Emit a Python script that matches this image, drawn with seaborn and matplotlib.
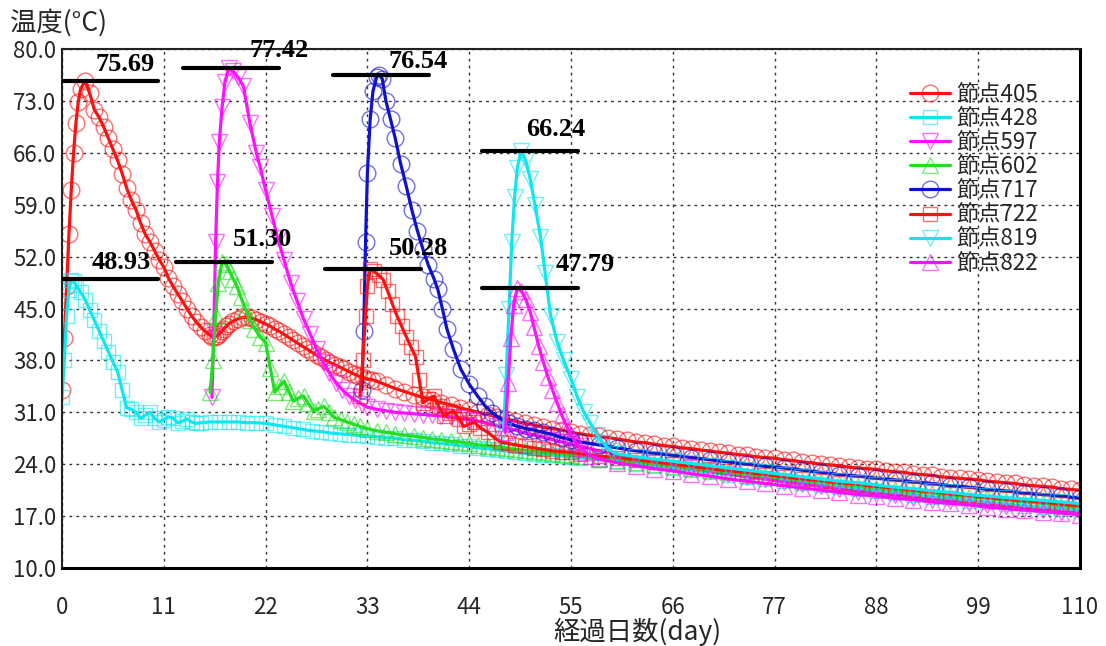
import pandas as pd
import matplotlib
matplotlib.use('Agg')
import matplotlib.pyplot as plt
from matplotlib.colors import to_rgba
import seaborn as sns

# 節点ごとの温度履歴
nodes = ['節点405', '節点428', '節点597', '節点602', '節点717', '節点722', '節点819', '節点822']

tail_1day = list(range(56, 111))
tail_2day = list(range(56, 111, 2))

days_405 = [0, 0.25, 0.5, 0.75, 1, 1.25, 1.5, 1.75, 2,
            2.5, 3, 3.5, 4, 4.5, 5, 5.5, 6, 6.5, 7, 7.5, 8, 8.5, 9, 9.5, 10, 10.5, 11,
            11.5, 12, 12.5, 13, 13.5, 14, 14.5, 15, 15.5, 16,
            16.25, 16.5, 16.75, 17, 17.25, 17.5, 17.75, 18,
            18.5, 19, 19.5, 20, 20.5, 21, 21.5, 22, 22.5, 23, 23.5, 24, 24.5, 25, 25.5, 26,
            26.5, 27, 27.5, 28, 28.5, 29, 29.5, 30, 30.5, 31, 31.5, 32, 32.5, 33, 33.5, 34,
            35, 36, 37, 38, 39, 40, 41, 42, 43, 44, 45, 46, 47, 48, 49, 50, 51, 52, 53, 54, 55]
temp_405 = [34.0, 41.0, 48.0, 55.0, 61.0, 66.0, 70.0, 72.8, 74.6,
            75.7, 74.0, 71.8, 70.8, 69.5, 68.0, 66.5, 65.0, 63.2, 61.2, 59.6, 58.3, 56.5, 55.0, 54.0,
            52.8, 51.6, 50.6, 49.1, 48.0, 47.0, 46.0, 45.0, 44.0, 43.2, 42.5, 41.9, 41.4,
            41.2, 41.2, 41.3, 41.6, 41.9, 42.3, 42.6, 42.9,
            43.3, 43.6, 43.8, 43.8, 43.7, 43.5, 43.2, 42.9, 42.6, 42.2, 41.9, 41.5, 41.1, 40.7, 40.3,
            39.9, 39.5, 39.1, 38.7, 38.4, 38.0, 37.7, 37.4, 37.1, 36.8, 36.5, 36.2, 35.9, 35.7, 35.5,
            35.4, 35.2,
            34.7, 34.2, 33.8, 33.4, 33.0, 32.7, 32.3, 32.0, 31.6, 31.3, 31.0, 30.7, 30.4, 30.1, 29.8,
            29.5, 29.3, 29.0, 28.8, 28.6, 28.3]
tail_405 = [28.1, 27.9, 27.8, 27.6, 27.4, 27.2, 27.0, 26.9, 26.7, 26.5,
            26.4, 26.2, 26.1, 25.9, 25.8, 25.6, 25.5, 25.3, 25.2, 25.0,
            24.9, 24.8, 24.6, 24.5, 24.3, 24.2, 24.0, 23.9, 23.8, 23.6,
            23.5, 23.4, 23.3, 23.1, 23.0, 22.9, 22.7, 22.6, 22.5, 22.3,
            22.2, 22.1, 22.0, 21.9, 21.7, 21.6, 21.5, 21.4, 21.2, 21.1,
            21.0, 20.9, 20.7, 20.6, 20.5]

days_428 = [0, 0.25, 0.5, 0.75, 1, 1.25, 1.5,
            2, 2.5, 3, 3.5, 4, 4.5, 5, 5.5, 6, 6.5, 7, 7.5, 8, 8.5, 9, 9.5, 10, 10.5, 11, 11.5,
            12, 12.5, 13, 13.5, 14, 14.5, 15,
            16, 17, 18, 19, 20, 21, 22, 23, 24, 25, 26, 27, 28, 29, 30, 31, 32, 33, 34, 35,
            36, 37, 38, 39, 40, 41, 42, 43, 44, 45, 46, 47, 48, 49, 50, 51, 52, 53, 54, 55]
temp_428 = [33.0, 38.0, 44.0, 47.5, 48.9, 48.7, 48.2,
            47.2, 46.2, 44.8, 43.4, 42.0, 40.6, 39.2, 37.8, 36.5, 34.0, 31.6, 31.4, 31.0, 30.2,
            30.6, 31.0, 30.2, 29.7, 30.0, 30.4, 30.2, 29.6, 29.8, 30.1, 29.7, 29.5, 29.6,
            29.7, 29.7, 29.7, 29.7, 29.6, 29.6, 29.5, 29.3, 29.1, 28.9, 28.7, 28.5, 28.4, 28.2,
            28.1, 28.0, 27.9, 27.8, 27.7, 27.6, 27.5, 27.3, 27.2, 27.1, 26.9, 26.8, 26.7, 26.5,
            26.4, 26.2, 26.1, 25.9, 25.8, 25.6, 25.5, 25.4, 25.3, 25.2, 25.1, 25.0]
tail_428 = [24.9, 24.6, 24.3, 24.0, 23.8, 23.5, 23.2, 22.9, 22.6, 22.3,
            22.0, 21.7, 21.5, 21.2, 20.9, 20.6, 20.4, 20.1, 19.9, 19.6,
            19.4, 19.1, 18.9, 18.6, 18.4, 18.2, 18.0, 17.8]

days_597 = [16.2, 16.4, 16.6, 16.8, 17.0, 17.3, 17.6, 18.0, 18.5, 19.0,
            19.6, 20.3, 21.0, 21.4, 22.0, 22.7, 23.3, 24.0, 24.7, 25.4,
            26.1, 26.8, 27.5, 28.2, 28.9, 29.6, 30.3, 31.0, 31.7, 32.4,
            33, 34, 35, 36, 37, 38, 39, 40, 41, 42, 43, 44, 45, 46, 47, 48, 49, 50, 51, 52,
            53, 54, 55]
temp_597 = [33.0, 42.0, 54.0, 62.0, 67.5, 72.2, 75.5, 77.42, 77.0, 76.2,
            75.0, 70.0, 66.0, 64.1, 61.0, 57.5, 54.5, 51.5, 48.5, 46.0,
            43.6, 41.6, 39.6, 37.8, 36.3, 35.0, 34.0, 33.2, 32.6, 32.1,
            31.7, 31.4, 31.2, 31.0, 30.9, 30.8, 30.7, 30.6, 30.5, 30.4,
            30.2, 30.0, 29.8, 29.5, 29.2, 28.9, 28.6, 28.2, 27.9, 27.6,
            27.3, 27.0, 26.7]
tail_597 = [26.4, 25.8, 25.3, 24.8, 24.3, 23.9, 23.5, 23.1, 22.7, 22.3,
            22.0, 21.6, 21.3, 21.0, 20.6, 20.3, 20.0, 19.8, 19.5, 19.2,
            19.0, 18.7, 18.5, 18.3, 18.0, 17.8, 17.6, 17.4]

days_602 = [16.0, 16.3, 16.6, 16.9, 17.3, 17.7, 18.1, 18.5, 18.9, 19.3,
            19.8, 20.3, 20.8, 21.4, 22.0, 22.5, 23.0, 23.5, 24.0, 24.5,
            25.0, 25.5, 26.1, 26.6, 27.2, 27.7, 28.3, 28.9, 29.4, 30.1,
            30.8, 31.5, 32.2,
            33, 34, 35, 36, 37, 38, 39, 40, 41, 42, 43, 44, 45, 46, 47, 48, 49, 50, 51, 52,
            53, 54, 55]
temp_602 = [33.7, 38.0, 44.0, 48.5, 51.3, 51.0, 50.0, 49.0, 48.0, 46.6,
            45.0, 43.5, 42.3, 41.2, 40.4, 37.0, 33.7, 34.5, 35.2, 33.8,
            32.5, 32.9, 33.2, 32.2, 31.2, 31.5, 31.8, 31.0, 30.3, 30.0,
            29.7, 29.4, 29.1,
            28.8, 28.5, 28.3, 28.1, 27.9, 27.8, 27.6, 27.4, 27.3, 27.1,
            27.0, 26.8, 26.6, 26.5, 26.3, 26.2, 26.0, 25.9, 25.8, 25.6,
            25.5, 25.4, 25.2]
tail_602 = [25.1, 24.8, 24.5, 24.3, 24.0, 23.8, 23.5, 23.2, 22.9, 22.6,
            22.4, 22.1, 21.8, 21.6, 21.3, 21.0, 20.8, 20.5, 20.3, 20.1,
            19.8, 19.6, 19.4, 19.1, 18.9, 18.7, 18.4, 18.2]

days_717 = [32.4, 32.6, 32.8, 33.0, 33.3, 33.6, 34.0, 34.2, 34.6, 35.0,
            35.5, 36.0, 36.6, 37.2, 37.8, 38.4, 39.0, 39.6, 40.2, 40.6,
            41.1, 41.6, 42.3, 43.1, 44.0, 44.9, 45.7, 46.5, 47.4, 48.3,
            49.2, 50.1, 51, 52, 53, 54, 55]
temp_717 = [34.0, 42.0, 54.0, 63.3, 70.5, 74.3, 76.2, 76.54, 76.0, 73.0,
            70.5, 68.0, 64.5, 61.5, 58.3, 55.5, 53.0, 50.8, 49.0, 47.6,
            45.0, 42.2, 39.5, 36.8, 34.8, 33.2, 31.9, 30.9, 30.1, 29.5,
            29.1, 28.8, 28.6, 28.3, 28.0, 27.6, 27.3]
tail_717 = [27.0, 26.6, 26.2, 25.8, 25.5, 25.2, 24.9, 24.6, 24.3, 24.0,
            23.7, 23.5, 23.2, 22.9, 22.6, 22.4, 22.1, 21.9, 21.6, 21.4,
            21.1, 20.9, 20.6, 20.4, 20.1, 19.9, 19.7, 19.4]

days_722 = [32.2, 32.5, 32.8, 33.0, 33.3, 33.7, 34.2, 34.7, 35.2, 35.7,
            36.2, 36.7, 37.2, 37.7, 38.2, 38.6, 39.0, 39.6, 40.2, 40.7,
            41.3, 41.8, 42.3, 42.9, 43.4, 44.0, 44.5, 45.2, 46.0, 46.7,
            47.4, 48.2, 49, 50, 51, 52, 53, 54, 55]
temp_722 = [33.2, 38.0, 44.0, 48.0, 50.28, 50.0, 49.5, 48.9, 47.3, 45.6,
            44.0, 42.6, 41.2, 39.8, 38.5, 35.4, 32.3, 32.8, 33.2, 31.8,
            30.5, 30.9, 31.2, 30.1, 29.1, 29.4, 29.7, 28.9, 28.3, 27.6,
            27.0, 26.8, 26.6, 26.4, 26.2, 26.0, 25.8, 25.7, 25.6]
tail_722 = [25.4, 25.1, 24.9, 24.6, 24.3, 24.0, 23.7, 23.4, 23.1, 22.9,
            22.6, 22.3, 22.0, 21.8, 21.5, 21.3, 21.0, 20.8, 20.5, 20.3,
            20.0, 19.8, 19.5, 19.3, 19.1, 18.9, 18.6, 18.4]

days_819 = [47.7, 48.0, 48.3, 48.6, 48.9, 49.2, 49.6, 50.1, 50.6, 51.1,
            51.7, 52.2, 52.8, 53.5, 54.2, 55.0, 55.7, 56.4, 57.1, 57.8,
            58.5, 59.3,
            60, 62, 64, 66, 68, 70, 72, 74, 76, 78, 80, 82, 84, 86, 88, 90, 92, 94, 96, 98,
            100, 102, 104, 106, 108, 110]
temp_819 = [28.5, 36.0, 45.0, 54.0, 60.0, 64.0, 66.24, 65.0, 62.4, 59.0,
            54.7, 49.8, 44.0, 40.5, 38.0, 35.5, 33.0, 31.0, 29.5, 28.0,
            26.8, 25.8,
            25.4, 25.0, 24.7, 24.4, 24.1, 23.8, 23.5, 23.2, 22.9, 22.6,
            22.3, 22.0, 21.7, 21.5, 21.2, 20.9, 20.7, 20.4, 20.2, 19.9,
            19.7, 19.5, 19.3, 19.1, 18.9, 18.7]

days_822 = [47.9, 48.2, 48.5, 48.8, 49.2, 49.6, 50.1, 50.6, 51.0, 51.5,
            52.0, 52.5, 53.0, 53.5, 54.0, 54.5, 55.0, 55.5, 56.0, 56.6, 57.2,
            58, 60, 62, 64, 66, 68, 70, 72, 74, 76, 78, 80, 82, 84, 86, 88, 90, 92, 94, 96,
            98, 100, 102, 104, 106, 108, 110]
temp_822 = [28.3, 35.0, 41.0, 45.5, 47.79, 47.4, 46.3, 44.5, 42.5, 40.0,
            37.8, 35.8, 34.0, 32.3, 30.6, 29.2, 28.0, 27.0, 26.2, 25.6, 25.1,
            24.7, 24.2, 23.8, 23.4, 23.1, 22.7, 22.4, 22.0, 21.7, 21.4,
            21.1, 20.8, 20.5, 20.2, 19.9, 19.7, 19.4, 19.2, 18.9, 18.7,
            18.5, 18.2, 18.0, 17.8, 17.6, 17.4, 17.2]

# ピーク値の注記
peak_values = [75.69, 77.42, 76.54, 48.93, 51.30, 50.28, 66.24, 47.79]
# 注記の位置 (横線の開始日, 文字の左端日, 文字の高さオフセット)
bar_start = [0, 13.1, 29.3, 0, 12.3, 28.4, 45.4, 45.4]
label_x = [3.6, 20.3, 35.3, 3.2, 18.5, 35.3, 50.1, 53.3]
label_dy = [0.7, 0.85, 0.2, 0.7, 1.5, 1.2, 1.4, 1.65]
bar_len = 10.4

x_ticks = [0, 11, 22, 33, 44, 55, 66, 77, 88, 99, 110]
y_ticks = [10, 17, 24, 31, 38, 45, 52, 59, 66, 73, 80]

series = [
    (days_405 + tail_1day, temp_405 + tail_405),
    (days_428 + tail_2day, temp_428 + tail_428),
    (days_597 + tail_2day, temp_597 + tail_597),
    (days_602 + tail_2day, temp_602 + tail_602),
    (days_717 + tail_2day, temp_717 + tail_717),
    (days_722 + tail_2day, temp_722 + tail_722),
    (days_819, temp_819),
    (days_822, temp_822),
]
colors = ['#ff1010', '#10e6f0', '#ff10ff', '#22dd22', '#1010d0', '#ff1010', '#10e6f0', '#ff10ff']
markers = ['o', 's', 'v', '^', 'o', 's', 'v', '^']
msizes = [12, 10, 11, 11, 12, 10, 11, 11]

sns.set_style('white')
plt.rcParams['font.family'] = ['Noto Sans CJK JP', 'DejaVu Sans']

fig = plt.figure(figsize=(11.06, 6.46), dpi=100)
ax = fig.add_axes([62 / 1106, 1 - 568 / 646, 1018 / 1106, 519 / 646])

for name, (d, t), c, m, ms in zip(nodes, series, colors, markers, msizes):
    df = pd.DataFrame({'day': d, 'temp': t})
    sns.lineplot(data=df, x='day', y='temp', ax=ax, sort=False, estimator=None,
                 color=c, linewidth=2.3, marker=m, markersize=ms,
                 markerfacecolor='none', markeredgecolor=to_rgba(c, 0.6),
                 markeredgewidth=1.0, label=name)

# ピーク値の横線と数値
for v, x0, lx, dy in zip(peak_values, bar_start, label_x, label_dy):
    ax.plot([x0, x0 + bar_len], [v, v], color='black', linewidth=3, zorder=10)
    ax.text(lx, v + dy, f'{v:.2f}', ha='left', va='bottom', fontsize=19, color='black',
            fontweight='bold', family='Liberation Serif', zorder=11)

ax.set_xlim(0, 110)
ax.set_ylim(10, 80)
ax.set_xticks(x_ticks)
ax.set_yticks(y_ticks)
ax.set_yticklabels([f'{v:.1f}' for v in y_ticks])
ax.tick_params(axis='x', length=0, pad=20, labelsize=16)
ax.tick_params(axis='y', length=0, pad=4, labelsize=16)
ax.grid(True, linestyle=(0, (2, 3)), color='#333333', linewidth=1.0)
ax.set_xlabel('')
ax.set_ylabel('')
for side in ['top', 'left']:
    ax.spines[side].set_color('#222222')
    ax.spines[side].set_linewidth(1.5)
for side in ['bottom', 'right']:
    ax.spines[side].set_color('black')
    ax.spines[side].set_linewidth(2.2)

ax.legend(loc='upper left', bbox_to_anchor=(0.833, 0.935), frameon=False, fontsize=16,
          handlelength=1.8, handletextpad=0.3, labelspacing=0.05, borderpad=0,
          borderaxespad=0)

fig.text(10 / 1106, 1 - 23 / 646, '温度(°C)', ha='left', va='center', fontsize=19)
fig.text(637 / 1106, 1 - 632 / 646, '経過日数(day)', ha='center', va='center', fontsize=19)

fig.savefig('out.png', dpi=100)
